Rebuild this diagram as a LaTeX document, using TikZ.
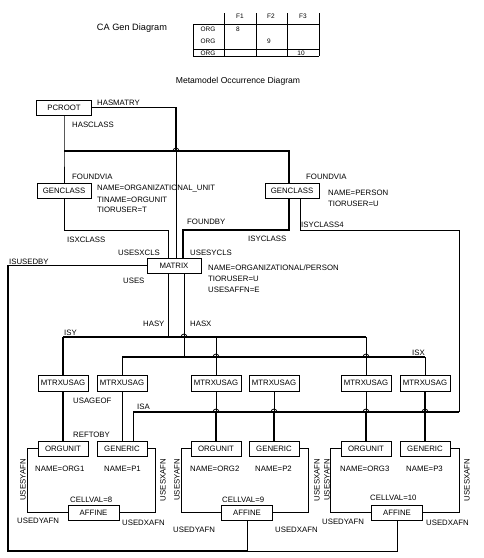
\documentclass[tikz,border=0pt]{standalone}
\usepackage{fontspec}
\setmainfont{Liberation Sans}
\newcommand\lbl{\fontsize{7.8}{9}\selectfont}
\newcommand\tbl{\fontsize{6.5}{8}\selectfont}
\newcommand\hop[2]{\draw[line width=0.8pt] (#1-3,#2) arc[start angle=180,end angle=360,radius=3];}
\begin{document}
\begin{tikzpicture}[x=1pt,y=-1pt,
 box/.style={draw,line width=0.7pt,inner sep=0pt,minimum height=15pt,minimum width=50pt,font=\lbl},
 mbox/.style={box,minimum height=16pt},
 lab/.style={anchor=west,inner sep=0pt,font=\lbl},
 rlab/.style={inner sep=0pt,font=\lbl,rotate=90},
 tlab/.style={inner sep=0pt,font=\tbl},
 thn/.style={line width=0.8pt},
 thk/.style={line width=1.8pt},
 grid/.style={line width=0.6pt}]
\useasboundingbox (0,0) rectangle (483,558);
% titles and table
\node[inner sep=0pt,font=\fontsize{9.2}{11}\selectfont] (title) at (132,28) {CA Gen Diagram};
\node[inner sep=0pt,font=\fontsize{8.6}{10}\selectfont] (sub) at (238,81) {Metamodel Occurrence Diagram};
\draw[grid] (224,13) -- (224,56) (256,13) -- (256,56) (287,13) -- (287,56) (319,13) -- (319,56)
  (193,24) -- (193,56) (193,24) -- (319,24) (193,49) -- (319,49) (193,56) -- (319,56);
\node[tlab] (tf1) at (240,16) {F1};
\node[tlab] (tf2) at (271,16) {F2};
\node[tlab] (tf3) at (303,16) {F3};
\node[tlab] (tr1) at (208,29) {ORG};
\node[tlab] (tr2) at (208,41) {ORG};
\node[tlab] (tr3) at (208,53) {ORG};
\node[tlab] (tv1) at (238,29) {8};
\node[tlab] (tv2) at (269,41) {9};
\node[tlab] (tv3) at (301,53) {10};
% boxes
\node[box,minimum width=55pt] (pcroot) at (64,107.5) {PCROOT};
\node[box,minimum width=54pt] (gcl) at (64,190.5) {GENCLASS};
\node[box,minimum width=54pt] (gcr) at (292,190.5) {GENCLASS};
\node[box,minimum width=54pt] (matrix) at (174,265.5) {MATRIX};
\node[mbox] (m1) at (63,383) {MTRXUSAG};
\node[mbox] (m2) at (122,383) {MTRXUSAG};
\node[mbox] (m3) at (216,383) {MTRXUSAG};
\node[mbox] (m4) at (274,383) {MTRXUSAG};
\node[mbox] (m5) at (366,383) {MTRXUSAG};
\node[mbox] (m6) at (425,383) {MTRXUSAG};
\node[box] (o1) at (63,448.5) {ORGUNIT};
\node[box] (g1) at (122,448.5) {GENERIC};
\node[box] (o2) at (216,448.5) {ORGUNIT};
\node[box] (g2) at (274,448.5) {GENERIC};
\node[box] (o3) at (366,448.5) {ORGUNIT};
\node[box] (g3) at (425,448.5) {GENERIC};
\node[box,minimum width=51pt] (a1) at (93.5,512.5) {AFFINE};
\node[box,minimum width=51pt] (a2) at (247,512.5) {AFFINE};
\node[box,minimum width=51pt] (a3) at (397,512.5) {AFFINE};
% coordinates
\coordinate (hmc) at (176,151);
\coordinate (hc) at (64,151);
\coordinate (hcr) at (289,151);
\coordinate (fb1) at (289,230);
\coordinate (fb2) at (183,230);
\coordinate (ix1) at (64,230);
\coordinate (ix2) at (168,230);
\coordinate (iy1) at (300,230);
\coordinate (iy2) at (459,230);
\coordinate (isaR) at (459,412);
\coordinate (isaL) at (133,412);
\coordinate (ub2) at (8,551);
\coordinate (ub3) at (247,551);
\coordinate (ub4) at (397,551);
\coordinate (hy) at (168,337);
\coordinate (hyL) at (63,337);
\coordinate (hy3) at (216,337);
\coordinate (hyR) at (366,337);
\coordinate (hx) at (184,357);
\coordinate (hxL) at (122,357);
\coordinate (hxR) at (425,357);
% HASMATRY
\draw[thk] (pcroot.east) -- (pcroot.east -| hmc) -- (hmc);
\draw[thn] (hmc) -- (hmc |- matrix.north);
% HASCLASS / FOUNDVIA
\draw[thn] (pcroot.south) -- (hc) -- (gcl.north);
\draw[thk] (hc) -- (hcr) -- (hcr |- gcr.north);
\hop{176}{151}
% FOUNDBY
\draw[thk] (gcr.south -| fb1) -- (fb1) -- (fb2) -- (fb2 |- matrix.north);
% ISXCLASS
\draw[thn] (gcl.south) -- (ix1) -- (ix2) -- (ix2 |- matrix.north);
% ISYCLASS4 / ISA
\draw[thn] (gcr.south -| iy1) -- (iy1) -- (iy2) -- (isaR);
\draw[thk] (isaR) -- (isaL);
\draw[thn] (isaL) -- (isaL |- g1.north);
% ISUSEDBY
\draw[thk] (matrix.west) -- (matrix.west -| ub2) -- (ub2) -- (ub3);
\draw[thn] (ub3) -- (a2.south);
\draw[thn] (ub3) -- (ub4) -- (a3.south);
% HASY
\draw[thn] (matrix.south -| hy) -- (hy);
\draw[thk] (hyL) -- (hyR);
\draw[thk] (hyL) -- (m1.north);
\draw[thn] (hy3) -- (m3.north);
\draw[thn] (hyR) -- (m5.north);
% HASX
\draw[thn] (matrix.south -| hx) -- (hx);
\draw[thk] (hxL) -- (hxR);
\draw[thn] (hxL) -- (m2.north);
\draw[thn] (hxR) -- (m6.north);
\hop{184}{337}
\hop{216}{357}
\hop{366}{357}
% usage links
\draw[thk] (m1.south) -- (o1.north);
\draw[thn] (m2.south) -- (g1.north);
\draw[thn] (m3.south) -- (m3.south |- isaL);
\draw[thk] (m3.south |- isaL) -- (o2.north);
\draw[thn] (m4.south) -- (m4.south |- isaL);
\draw[thk] (m4.south |- isaL) -- (g2.north);
\draw[thn] (m5.south) -- (m5.south |- isaL);
\draw[thk] (m5.south |- isaL) -- (o3.north);
\draw[thk] (m6.south) -- (g3.north);
\hop{216}{412}
\hop{274}{412}
\hop{366}{412}
\hop{425}{412}
% brackets
\draw[thn] (o1.west) -- ++(-10,0) |- (a1.west);
\draw[thn] (g1.east) -- ++(8,0) |- (a1.east);
\draw[thn] (o2.west) -- ++(-9,0) |- (a2.west);
\draw[thn] (g2.east) -- ++(9,0) |- (a2.east);
\draw[thn] (o3.west) -- ++(-10,0) |- (a3.west);
\draw[thn] (g3.east) -- ++(9,0) |- (a3.east);
% labels
\node[lab] (l1) at (97,103) {HASMATRY};
\node[lab] (l2) at (72,125) {HASCLASS};
\node[lab] (l3) at (72,177) {FOUNDVIA};
\node[lab] (l4) at (97,189) {NAME=ORGANIZATIONAL\_UNIT};
\node[lab] (l5) at (97,199.5) {TINAME=ORGUNIT};
\node[lab] (l6) at (97,210) {TIORUSER=T};
\node[lab] (l7) at (306,177) {FOUNDVIA};
\node[lab] (l8) at (328,193) {NAME=PERSON};
\node[lab] (l9) at (328,203.5) {TIORUSER=U};
\node[lab] (l10) at (301,225) {ISYCLASS4};
\node[lab] (l11) at (187,222) {FOUNDBY};
\node[lab] (l12) at (248,239) {ISYCLASS};
\node[lab] (l13) at (67,240) {ISXCLASS};
\node[lab] (l14) at (118,253) {USESXCLS};
\node[lab] (l15) at (190,253) {USESYCLS};
\node[lab] (l16) at (9,262) {ISUSEDBY};
\node[lab] (l17) at (123,281) {USES};
\node[lab] (l18) at (208,268) {NAME=ORGANIZATIONAL/PERSON};
\node[lab] (l19) at (208,279) {TIORUSER=U};
\node[lab] (l20) at (208,290) {USESAFFN=E};
\node[lab] (l21) at (143,324) {HASY};
\node[lab] (l22) at (190,324) {HASX};
\node[lab] (l23) at (64,333) {ISY};
\node[lab] (l24) at (412,353) {ISX};
\node[lab] (l25) at (73,401) {USAGEOF};
\node[lab] (l26) at (137,407) {ISA};
\node[lab] (l27) at (73,435) {REFTOBY};
% group labels
\node[lab] (n1) at (35,469) {NAME=ORG1};
\node[lab] (p1) at (104,469) {NAME=P1};
\node[lab] (n2) at (190,469) {NAME=ORG2};
\node[lab] (p2) at (255,469) {NAME=P2};
\node[lab] (n3) at (340,469) {NAME=ORG3};
\node[lab] (p3) at (406,469) {NAME=P3};
\node[lab] (c1) at (70,500) {CELLVAL=8};
\node[lab] (c2) at (222,500) {CELLVAL=9};
\node[lab] (c3) at (370,498) {CELLVAL=10};
\node[rlab] (ry1) at (23,480) {USESYAFN};
\node[rlab] (rx1) at (163,480) {USESXAFN};
\node[rlab] (ry2) at (177,480) {USESYAFN};
\node[rlab] (rx2) at (317,480) {USESXAFN};
\node[rlab] (ry3) at (327,480) {USESYAFN};
\node[rlab] (rx3) at (467,480) {USESXAFN};
\node[lab] (dy1) at (17,521) {USEDYAFN};
\node[lab] (dx1) at (122,523) {USEDXAFN};
\node[lab] (dy2) at (173,530) {USEDYAFN};
\node[lab] (dx2) at (275,530) {USEDXAFN};
\node[lab] (dy3) at (322,522) {USEDYAFN};
\node[lab] (dx3) at (426,523) {USEDXAFN};
\end{tikzpicture}
\end{document}
